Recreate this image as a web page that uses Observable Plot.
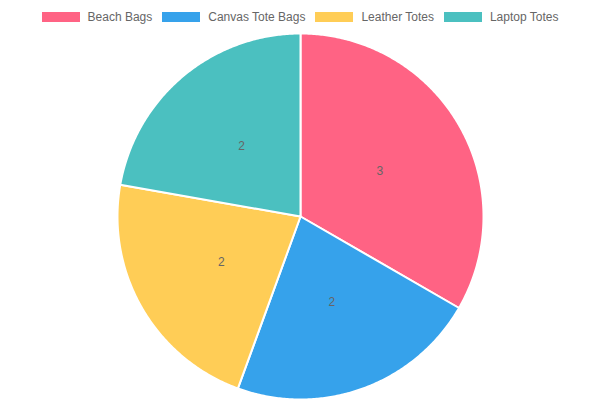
<!DOCTYPE html>
<html>
<head>
<meta charset="utf-8">
<script src="https://cdn.jsdelivr.net/npm/d3@7"></script>
<script src="https://cdn.jsdelivr.net/npm/@observablehq/plot@0.6"></script>
<style>
  html, body { margin: 0; padding: 0; background: #fff; }
  body { width: 600px; height: 400px; overflow: hidden; font-family: "Liberation Sans", Arial, Helvetica, sans-serif; }
  #legend { height: 31px; display: flex; justify-content: center; align-items: center; gap: 10px; font-size: 12px; color: #666; padding-top: 2px; box-sizing: border-box; }
  .item { display: flex; align-items: center; gap: 8px; }
  .box { width: 38px; height: 10px; }
  #chart svg { display: block; }
</style>
</head>
<body>
<div id="legend"></div>
<div id="chart"></div>
<script>
const categories = ["Beach Bags", "Canvas Tote Bags", "Leather Totes", "Laptop Totes"];
const values = [3, 2, 2, 2];
const colors = ["#ff6384", "#36a2eb", "#ffcd56", "#4bc0c0"];

const legend = document.getElementById("legend");
categories.forEach((c, i) => {
  const it = document.createElement("div");
  it.className = "item";
  const b = document.createElement("div");
  b.className = "box";
  b.style.background = colors[i];
  const t = document.createElement("span");
  t.textContent = c;
  it.appendChild(b); it.appendChild(t);
  legend.appendChild(it);
});

const arcs = d3.pie().sort(null).value(d => d.value)(categories.map((name, i) => ({name, value: values[i]})));
const poly = [];
const labels = [];
arcs.forEach(a => {
  const name = a.data.name;
  poly.push({name, x: 0, y: 0});
  const n = Math.max(2, Math.ceil((a.endAngle - a.startAngle) / (Math.PI / 360)));
  for (let k = 0; k <= n; k++) {
    const ang = a.startAngle + (a.endAngle - a.startAngle) * k / n;
    poly.push({name, x: Math.sin(ang), y: Math.cos(ang)});
  }
  const mid = (a.startAngle + a.endAngle) / 2;
  labels.push({name, x: 0.5 * Math.sin(mid), y: 0.5 * Math.cos(mid), value: a.data.value});
});

const plot = Plot.plot({
  width: 600,
  height: 369,
  marginLeft: 117,
  marginRight: 117,
  marginTop: 2,
  marginBottom: 1,
  x: {domain: [-1, 1], axis: null},
  y: {domain: [-1, 1], axis: null},
  color: {domain: categories, range: colors},
  style: {fontFamily: "'Liberation Sans', Arial, Helvetica, sans-serif", background: "#fff"},
  marks: [
    Plot.line(poly, {x: "x", y: "y", z: "name", fill: "name", stroke: "#fff", strokeWidth: 2, curve: "linear-closed", strokeLinejoin: "round"}),
    Plot.text(labels, {x: "x", y: "y", text: "value", fill: "#666", fontSize: 12})
  ]
});
document.getElementById("chart").appendChild(plot);
</script>
</body>
</html>
